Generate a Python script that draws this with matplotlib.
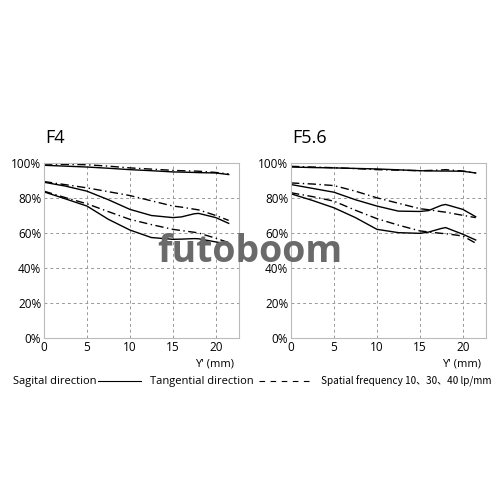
import numpy as np
import matplotlib.pyplot as plt

plt.rcParams['font.family'] = ['Open Sans', 'DejaVu Sans']

x_pts = [0, 2.5, 5, 7.5, 10, 12.5, 15, 16, 17.5, 18, 20, 21.5]

# F4
f4_sag = [
    [98.7, 98.2, 97.7, 97.0, 96.2, 95.6, 94.9, 94.8, 94.6, 94.5, 94.3, 93.4],
    [89.0, 86.8, 83.9, 79.0, 73.5, 70.0, 68.8, 69.2, 71.0, 71.2, 68.8, 65.5],
    [83.5, 79.5, 75.4, 67.8, 61.7, 57.4, 56.4, 56.5, 56.8, 56.7, 54.9, 53.6],
]
f4_tan = [
    [99.4, 99.2, 99.0, 98.2, 97.2, 96.5, 95.8, 95.6, 95.4, 95.3, 94.6, 93.7],
    [89.4, 87.6, 85.8, 83.6, 81.4, 78.4, 75.4, 74.8, 73.6, 73.2, 70.0, 67.2],
    [83.9, 80.2, 76.7, 72.2, 67.8, 64.8, 62.1, 61.4, 60.4, 60.0, 57.0, 54.5],
]

# F5.6
f56_sag = [
    [97.7, 97.4, 97.2, 96.9, 96.6, 96.1, 95.6, 95.5, 95.4, 95.4, 95.3, 94.3],
    [87.7, 85.5, 83.3, 79.0, 75.4, 72.5, 72.3, 72.8, 75.8, 76.3, 73.5, 69.3],
    [82.4, 78.6, 74.4, 68.8, 62.1, 60.2, 59.8, 60.5, 62.6, 63.1, 59.3, 56.0],
]
f56_tan = [
    [98.1, 97.7, 97.3, 96.8, 96.2, 95.9, 95.6, 95.7, 96.0, 96.2, 95.4, 94.3],
    [88.6, 88.0, 87.1, 83.9, 80.1, 77.0, 73.9, 73.3, 72.2, 71.9, 70.1, 68.8],
    [83.0, 80.8, 78.2, 73.0, 68.2, 64.5, 61.2, 60.6, 59.8, 59.6, 58.3, 54.2],
]

panels = [("F4", f4_sag, f4_tan), ("F5.6", f56_sag, f56_tan)]
yticks = [0, 20, 40, 60, 80, 100]
xticks = [0, 5, 10, 15, 20]

fig = plt.figure(figsize=(5, 5), dpi=100)
lefts = [0.088, 0.582]
dash = (0, (6, 2.5, 1, 2.5))

for left, (title, sag, tan) in zip(lefts, panels):
    ax = fig.add_axes([left, 0.324, 0.39, 0.35])
    for s in sag:
        ax.plot(x_pts, s, color='black', lw=1.0)
    for t in tan:
        ax.plot(x_pts, t, color='black', lw=1.0, linestyle=dash)
    ax.set_xlim(0, 22.7)
    ax.set_ylim(0, 100)
    ax.set_xticks(xticks)
    ax.set_yticks(yticks)
    ax.set_yticklabels([f"{v}%" for v in yticks])
    ax.tick_params(length=0, labelsize=8.5, pad=2)
    ax.grid(True, color='#999999', linestyle=(0, (3, 3)), lw=0.7)
    for sp in ax.spines.values():
        sp.set_color('#bbbbbb')
        sp.set_linewidth(0.8)
    fig.text(left + 0.003, 0.724, title, fontsize=13, ha='left', va='center')
    fig.text(left + 0.342, 0.273, "Y' (mm)", fontsize=8, ha='center', va='center')

# legend row
fig.text(0.026, 0.237, "Sagital direction", fontsize=8, va='center')
fig.add_artist(plt.Line2D([0.196, 0.282], [0.238, 0.238], color='black', lw=0.8))
fig.text(0.3, 0.237, "Tangential direction", fontsize=8, va='center')
fig.add_artist(plt.Line2D([0.518, 0.622], [0.238, 0.238], color='black', lw=0.8,
                          linestyle=(0, (5, 5))))
fig.text(0.642, 0.237, "Spatial frequency 10、30、40 lp/mm", fontsize=7.2, va='center',
         family=['Noto Sans CJK JP', 'DejaVu Sans'])

# watermark
fig.text(0.5, 0.497, "futoboom", fontsize=27, fontweight='bold', color='#6a6a6a',
         ha='center', va='center', zorder=10)

fig.savefig('out.png', dpi=100)
